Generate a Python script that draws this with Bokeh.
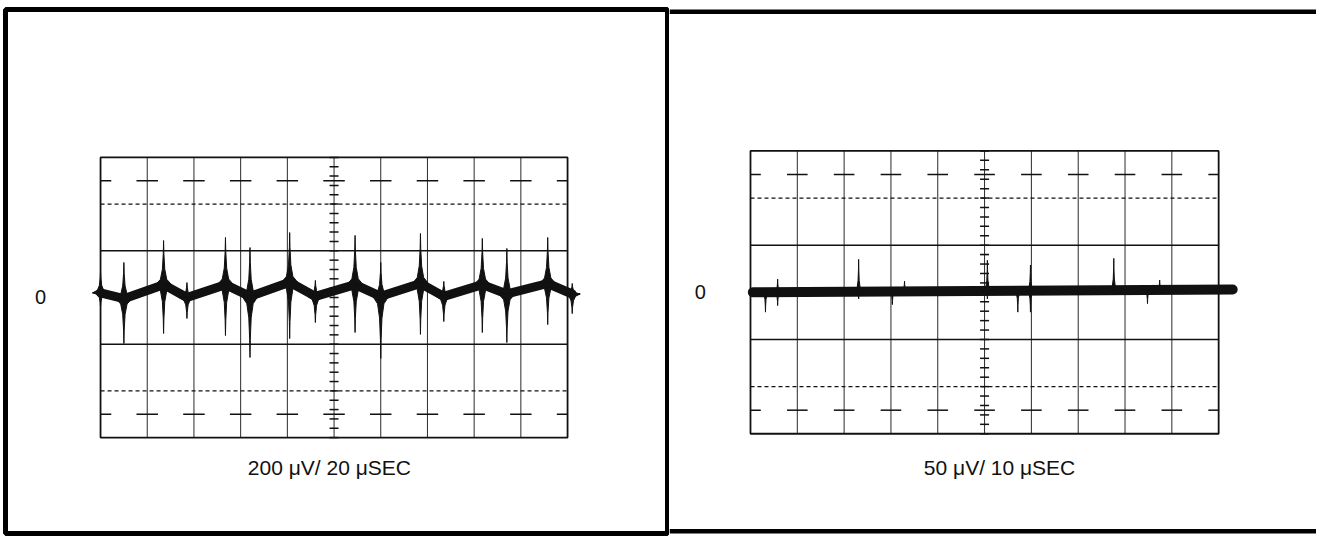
import numpy as np
from bokeh.plotting import figure
from bokeh.layouts import row
from bokeh.models import Span, Range1d
from bokeh.embed import file_html
from bokeh.resources import INLINE
from bokeh.core.properties import value

# ---------------- data ----------------
# Left trace: 200 uV/div, 20 us/div  (time in us, voltage in uV)
left_t = [0, 10, 27, 37, 53.5, 64, 81, 92, 109, 120, 137, 147, 163.5, 174, 191.5, 202]
left_v = [20, -5, 55, 0, 55, 5, 65, 5, 55, 5, 60, 5, 55, 15, 60, 15]
left_up = [110, 150, 244, 64, 257, 214, 278, 73, 266, 150, 274, 69, 253, 210, 257, 60]
left_down = [-40, -197, -154, -90, -163, -257, -176, -107, -150, -261, -158, -103, -150, -193, -116, -69]

# Right trace: 50 uV/div, 10 us/div
right_t = [0.5, 103]
right_v = [0, 3]
right_spike_t = [3.2, 5.8, 23.1, 30.3, 32.9, 50.6, 57.1, 59.8, 77.6, 84.8, 87.4]
right_up = [0, 14, 35, 0, 12, 34, 0, 29, 36, 0, 13]
right_down = [-21, -14, -7, -13, -3, -7, -21, -21, 0, -12, 0]

left_caption = "200 \u03bcV/ 20 \u03bcSEC"
right_caption = "50 \u03bcV/ 10 \u03bcSEC"
zero_label = "0"

INK = "#111111"
FONT = "Liberation Sans"


def make_fig(w, h, xr, yr, bl, br, bt, bb):
    p = figure(width=w, height=h, x_range=Range1d(*xr), y_range=Range1d(*yr),
               output_backend="svg", toolbar_location=None,
               min_border_left=bl, min_border_right=br,
               min_border_top=bt, min_border_bottom=bb)
    p.axis.visible = False
    p.grid.visible = False
    p.background_fill_color = "white"
    p.border_fill_color = "white"
    return p


def graticule(p, xdiv, ydiv, dash_half):
    xs = [i * xdiv for i in range(11)]
    x0, x1 = xs[0], xs[-1]
    y0, y1 = -3 * ydiv, 3 * ydiv
    inner = xs[1:-1]
    p.segment(x0=inner, y0=[y0] * len(inner), x1=inner, y1=[y1] * len(inner),
              line_color="#2a2a2a", line_width=1)
    p.segment(x0=[x0, x0], y0=[-ydiv, ydiv], x1=[x1, x1], y1=[-ydiv, ydiv],
              line_color=INK, line_width=1.5)
    p.segment(x0=[x0, x0], y0=[-2 * ydiv, 2 * ydiv], x1=[x1, x1], y1=[-2 * ydiv, 2 * ydiv],
              line_color=INK, line_width=1.2, line_dash="4 3")
    dx0, dx1, dy = [], [], []
    for yy in (-2.5 * ydiv, 2.5 * ydiv):
        for xx in xs:
            dx0.append(max(x0, xx - dash_half))
            dx1.append(min(x1, xx + dash_half))
            dy.append(yy)
    p.segment(x0=dx0, y0=dy, x1=dx1, y1=dy, line_color=INK, line_width=1.5)
    p.quad(left=x0, right=x1, bottom=y0, top=y1, fill_color=None,
           line_color=INK, line_width=1.8)
    ty = [k * ydiv / 5 for k in range(-15, 16)]
    p.scatter(x=[5 * xdiv] * len(ty), y=ty, marker="dash", size=9,
              line_color=INK, line_width=1.5)


def spikes(p, ts, bases, ups, downs, w):
    xs, ys = [], []
    for t, b, u, d in zip(ts, bases, ups, downs):
        for pk in (u, d):
            if pk == 0:
                continue
            h = pk - b
            xs.append([t - w, t - 0.4 * w, t - 0.15 * w, t - 0.04 * w, t,
                       t + 0.04 * w, t + 0.15 * w, t + 0.4 * w, t + w])
            ys.append([b, b + 0.12 * h, b + 0.35 * h, b + 0.7 * h, b + h,
                       b + 0.7 * h, b + 0.35 * h, b + 0.12 * h, b])
    p.patches(xs=xs, ys=ys, fill_color=INK, line_color=INK, line_width=1)


# ---------------- left panel ----------------
pl = make_fig(669, 536, (-40.7, 242.8), (-1010.8, 1233.5), 5, 2, 9, 3)
pl.outline_line_color = "black"
pl.outline_line_width = 5
graticule(pl, 20, 200, 4.6)
pl.line(left_t, left_v, line_color=INK, line_width=9, line_join="round", line_cap="round")
spikes(pl, left_t, left_v, left_up, left_down, 3.4)
pl.text(x=[-25.7], y=[0], text=[zero_label], text_font=value(FONT), text_font_size="20px",
        text_align="center", text_baseline="middle", text_color=INK)
pl.text(x=[98], y=[-728], text=[left_caption], text_font=value(FONT), text_font_size="21px",
        text_align="center", text_baseline="middle", text_color=INK)

# ---------------- right panel ----------------
pr = make_fig(647, 536, (-17.3, 120.9), (-255.8, 300.0), 0, 0, 5, 3)
pr.outline_line_color = None
pr.add_layout(Span(location=300.0, dimension="width", line_color="black", line_width=9))
pr.add_layout(Span(location=-255.8, dimension="width", line_color="black", line_width=9))
graticule(pr, 10, 50, 2.2)
pr.line(right_t, right_v, line_color=INK, line_width=10, line_cap="round")
right_base = list(np.interp(right_spike_t, right_t, right_v))
spikes(pr, right_spike_t, right_base, right_up, right_down, 0.8)
pr.text(x=[-10.7], y=[0], text=[zero_label], text_font=value(FONT), text_font_size="20px",
        text_align="center", text_baseline="middle", text_color=INK)
pr.text(x=[53.2], y=[-186], text=[right_caption], text_font=value(FONT), text_font_size="21px",
        text_align="center", text_baseline="middle", text_color=INK)

layout = row(pl, pr, spacing=0)
open("out.html", "w").write(file_html(layout, INLINE))
